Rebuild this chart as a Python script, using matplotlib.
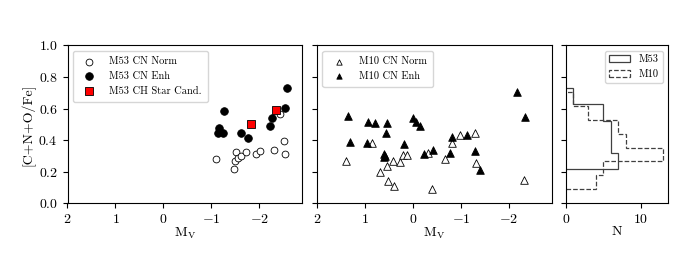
import matplotlib
matplotlib.use("Agg")
import matplotlib.pyplot as plt
import numpy as np

plt.rcParams['font.family'] = ['cmr10', 'DejaVu Serif']
plt.rcParams['mathtext.fontset'] = 'cm'
plt.rcParams['axes.formatter.use_mathtext'] = True
plt.rcParams['font.size'] = 10
plt.rcParams['axes.unicode_minus'] = True

# M53 data
m53_norm_mv = [-1.09, -1.52, -1.50, -1.56, -1.61, -1.47, -1.72, -1.94, -2.01, -2.31, -2.52, -2.53, -2.44]
m53_norm_y = [0.281, 0.327, 0.270, 0.285, 0.300, 0.217, 0.327, 0.312, 0.331, 0.338, 0.393, 0.314, 0.566]
m53_enh_mv = [-1.26, -1.15, -1.13, -1.24, -1.61, -1.76, -2.23, -2.27, -2.53, -2.57]
m53_enh_y = [0.587, 0.475, 0.447, 0.444, 0.447, 0.414, 0.488, 0.539, 0.606, 0.729]
m53_ch_mv = [-1.82, -2.34]
m53_ch_y = [0.500, 0.593]

# M10 data
m10_norm_mv = [1.39, 0.86, 0.69, 0.55, 0.53, 0.39, 0.42, 0.28, 0.22, 0.12, -0.30, -0.39,
               -0.67, -0.82, -0.98, -1.29, -1.31, -2.31]
m10_norm_y = [0.270, 0.384, 0.200, 0.238, 0.141, 0.112, 0.270, 0.262, 0.306, 0.306, 0.317, 0.090,
              0.283, 0.380, 0.435, 0.445, 0.255, 0.148]
m10_enh_mv = [1.35, 0.94, 0.79, 0.55, 0.57, 1.31, 0.96, 0.00, -0.07, -0.15, 0.18, 0.60, 0.60, 0.59,
              -0.22, -0.42, -0.82, -1.13, -0.77, -1.29, -1.39, -2.17, -2.33]
m10_enh_y = [0.553, 0.515, 0.507, 0.507, 0.447, 0.390, 0.384, 0.539, 0.513, 0.490, 0.374, 0.312, 0.291, 0.300,
             0.310, 0.338, 0.418, 0.433, 0.321, 0.333, 0.211, 0.703, 0.545]

fig = plt.figure(figsize=(6.75, 2.74), dpi=100)
ax1 = fig.add_axes([0.1, 0.258, 0.348, 0.576])
ax2 = fig.add_axes([0.470, 0.258, 0.348, 0.576])
ax3 = fig.add_axes([0.8385, 0.258, 0.151, 0.576])

ms = 24
ax1.scatter(m53_norm_mv, m53_norm_y, s=ms, facecolors='white', edgecolors='k', linewidths=0.6, label='M53 CN Norm')
ax1.scatter(m53_enh_mv, m53_enh_y, s=ms + 6, facecolors='k', edgecolors='k', linewidths=0.6, label='M53 CN Enh')
ax1.scatter(m53_ch_mv, m53_ch_y, s=ms + 4, marker='s', facecolors='red', edgecolors='k', linewidths=0.6,
            label='M53 CH Star Cand.')

ax2.scatter(m10_norm_mv, m10_norm_y, s=ms + 6, marker='^', facecolors='white', edgecolors='k', linewidths=0.6,
            label='M10 CN Norm')
ax2.scatter(m10_enh_mv, m10_enh_y, s=ms + 6, marker='^', facecolors='k', edgecolors='k', linewidths=0.6,
            label='M10 CN Enh')

for ax in (ax1, ax2):
    ax.set_xlim(2, -2.9)
    ax.set_ylim(0, 1.0)
    ax.set_xticks([2, 1, 0, -1, -2])
    ax.set_xlabel(r'M$_{\rm V}$', labelpad=0)
ax1.set_yticks([0, 0.2, 0.4, 0.6, 0.8, 1.0])
ax1.set_ylabel('[C+N+O/Fe]', labelpad=2)
ax2.set_yticks([0, 0.2, 0.4, 0.6, 0.8, 1.0])
ax2.set_yticklabels([])

ax1.legend(loc='upper left', fontsize=7.5, handletextpad=0.9, borderpad=0.6)
ax2.legend(loc='upper left', fontsize=7.5, handletextpad=0.9, borderpad=0.6, markerscale=0.7)

m53_all = m53_norm_y + m53_enh_y + m53_ch_y
m10_all = m10_norm_y + m10_enh_y
ax3.hist(m53_all, bins=5, orientation='horizontal', histtype='step', color='0.25', lw=0.9, label='M53')
ax3.hist(m10_all, bins=7, orientation='horizontal', histtype='step', color='0.25', lw=0.9, ls='--', label='M10')
ax3.set_ylim(0, 1.0)
ax3.set_yticks([0, 0.2, 0.4, 0.6, 0.8, 1.0])
ax3.set_yticklabels([])
ax3.set_xticks([0, 10])
ax3.set_xlabel('N', labelpad=0)
ax3.legend(loc='upper right', fontsize=7.5)

fig.savefig('out.png', dpi=100)
